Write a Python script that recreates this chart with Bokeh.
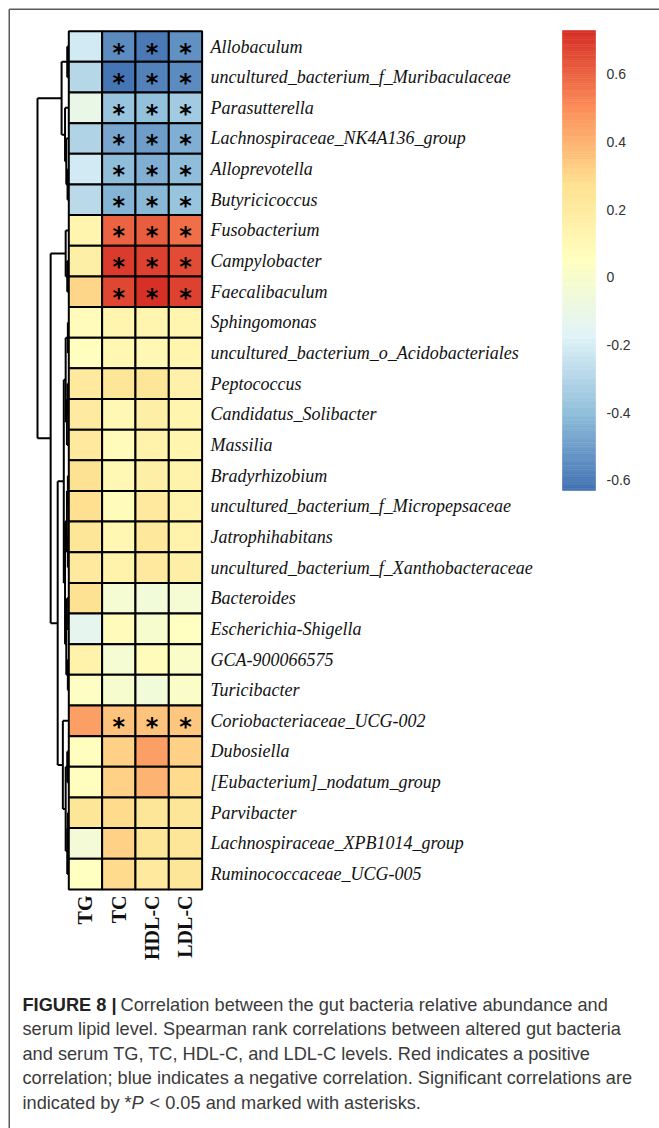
import numpy as np
from bokeh.plotting import figure
from bokeh.models import Range1d, LinearColorMapper, ColumnDataSource
from bokeh.core.properties import value
from bokeh.transform import transform
from bokeh.embed import file_html
from bokeh.resources import INLINE

# ---------------- data ----------------
genera = [
    "Allobaculum", "uncultured_bacterium_f_Muribaculaceae", "Parasutterella",
    "Lachnospiraceae_NK4A136_group", "Alloprevotella", "Butyricicoccus",
    "Fusobacterium", "Campylobacter", "Faecalibaculum", "Sphingomonas",
    "uncultured_bacterium_o_Acidobacteriales", "Peptococcus", "Candidatus_Solibacter",
    "Massilia", "Bradyrhizobium", "uncultured_bacterium_f_Micropepsaceae",
    "Jatrophihabitans", "uncultured_bacterium_f_Xanthobacteraceae", "Bacteroides",
    "Escherichia-Shigella", "GCA-900066575", "Turicibacter", "Coriobacteriaceae_UCG-002",
    "Dubosiella", "[Eubacterium]_nodatum_group", "Parvibacter",
    "Lachnospiraceae_XPB1014_group", "Ruminococcaceae_UCG-005",
]
measures = ["TG", "TC", "HDL-C", "LDL-C"]

tg  = [-0.22, -0.30, -0.10, -0.31, -0.21, -0.28, 0.12, 0.16, 0.30, 0.07, 0.05, 0.20, 0.19, 0.21,
       0.26, 0.28, 0.24, 0.20, 0.26, -0.13, 0.14, 0.03, 0.45, 0.06, 0.06, 0.24, -0.04, 0.04]
tc  = [-0.55, -0.63, -0.38, -0.47, -0.41, -0.43, 0.60, 0.69, 0.67, 0.13, 0.11, 0.23, 0.10, 0.07,
       0.10, 0.07, 0.11, 0.14, -0.03, 0.07, -0.02, -0.01, 0.35, 0.32, 0.31, 0.29, 0.31, 0.29]
hdl = [-0.61, -0.58, -0.39, -0.50, -0.44, -0.42, 0.62, 0.68, 0.73, 0.13, 0.10, 0.23, 0.16, 0.14,
       0.16, 0.20, 0.22, 0.20, -0.05, -0.01, 0.07, -0.05, 0.36, 0.45, 0.40, 0.24, 0.24, 0.20]
ldl = [-0.54, -0.55, -0.35, -0.45, -0.40, -0.38, 0.58, 0.66, 0.68, 0.12, 0.12, 0.15, 0.13, 0.13,
       0.14, 0.14, 0.14, 0.16, -0.03, 0.04, 0.02, 0.02, 0.34, 0.32, 0.29, 0.24, 0.24, 0.24]

# significance (1 = P < 0.05)
sig_tg  = [0] * 28
sig_tc  = [1, 1, 1, 1, 1, 1, 1, 1, 1, 0, 0, 0, 0, 0, 0, 0, 0, 0, 0, 0, 0, 0, 1, 0, 0, 0, 0, 0]
sig_hdl = [1, 1, 1, 1, 1, 1, 1, 1, 1, 0, 0, 0, 0, 0, 0, 0, 0, 0, 0, 0, 0, 0, 1, 0, 0, 0, 0, 0]
sig_ldl = [1, 1, 1, 1, 1, 1, 1, 1, 1, 0, 0, 0, 0, 0, 0, 0, 0, 0, 0, 0, 0, 0, 1, 0, 0, 0, 0, 0]

# row dendrogram merges (child a, child b, height); leaves 0..27, merge k -> id 28+k
merges = [
    (0, 1, 0.05), (4, 5, 0.04), (3, 29, 0.08), (2, 30, 0.12), (28, 31, 0.23),
    (7, 8, 0.05), (6, 33, 0.10),
    (9, 10, 0.03), (11, 12, 0.04), (36, 13, 0.06), (35, 37, 0.10),
    (14, 15, 0.03), (16, 17, 0.03), (39, 40, 0.06), (18, 19, 0.06), (20, 21, 0.03),
    (42, 43, 0.08), (41, 44, 0.12), (38, 45, 0.16),
    (23, 24, 0.05), (25, 26, 0.03), (48, 27, 0.05), (47, 49, 0.10), (22, 50, 0.19),
    (46, 51, 0.355), (34, 52, 0.58), (32, 53, 1.0),
]

legend_ticks = [0.6, 0.4, 0.2, 0.0, -0.2, -0.4, -0.6]
legend_labels = ["0.6", "0.4", "0.2", "0", "-0.2", "-0.4", "-0.6"]

caption_lines = [
    "Correlation between the gut bacteria relative abundance and",
    "serum lipid level. Spearman rank correlations between altered gut bacteria",
    "and serum TG, TC, HDL-C, and LDL-C levels. Red indicates a positive",
    "correlation; blue indicates a negative correlation. Significant correlations are",
    "indicated by *",
]

# ---------------- layout ----------------
W, H = 659, 1128
OX, OY = 0, 0            # page offset of the canvas
X0, CW = 68.3, 33.33     # page px of heatmap left edge, cell width
Y0, RH = 30.7, 30.65     # page px of heatmap top edge, row height

def ux(px):
    return (px - X0) / CW

def uy(py):
    return (py - Y0) / RH

p = figure(width=W, height=H, toolbar_location=None, output_backend="svg",
           x_range=Range1d(ux(OX), ux(OX + W)), y_range=Range1d(uy(OY + H), uy(OY)),
           x_axis_type=None, y_axis_type=None, min_border=0,
           outline_line_color=None, background_fill_color="white",
           border_fill_color="white")
p.grid.visible = False

# palette: pheatmap default rev(RdYlBu 7) ramp, 100 colours
stops = ["#4575B4", "#91BFDB", "#E0F3F8", "#FFFFBF", "#FEE090", "#FC8D59", "#D73027"]
def hex2rgb(h):
    return np.array([int(h[i:i + 2], 16) for i in (1, 3, 5)], float)
srgb = np.array([hex2rgb(s) for s in stops])
pal = []
for t in np.linspace(0, 1, 100):
    f = t * (len(stops) - 1)
    i = min(int(f), len(stops) - 2)
    c = srgb[i] + (srgb[i + 1] - srgb[i]) * (f - i)
    pal.append("#%02x%02x%02x" % tuple(int(round(v)) for v in c))

cols = [tg, tc, hdl, ldl]
sigs = [sig_tg, sig_tc, sig_hdl, sig_ldl]
allv = np.array(cols)
vmin, vmax = float(allv.min()), float(allv.max())
mapper = LinearColorMapper(palette=pal, low=vmin, high=vmax)

# heatmap cells
cx, cy, cv, sx, sy = [], [], [], [], []
for i, col in enumerate(cols):
    for j, v in enumerate(col):
        cx.append(i + 0.5); cy.append(j + 0.5); cv.append(v)
        if sigs[i][j]:
            sx.append(i + 0.5); sy.append(j + 0.5)
src = ColumnDataSource(dict(x=cx, y=cy, v=cv))
p.rect(x="x", y="y", width=1, height=1, source=src,
       fill_color=transform("v", mapper), line_color="black", line_width=2)

p.text(x=sx, y=sy, text=["*"] * len(sx), text_align="center", text_baseline="middle",
       text_font=value("DejaVu Sans"), text_font_style="bold", text_font_size="24px",
       text_color="black", y_offset=6)

# row labels
p.text(x=[ux(210)] * len(genera), y=[j + 0.5 for j in range(len(genera))], text=genera,
       text_font=value("Liberation Serif"), text_font_style="italic",
       text_font_size="18px", text_baseline="middle", text_align="left",
       text_color="#111111")

# column labels
p.text(x=[i + 0.5 for i in range(len(measures))], y=[uy(895)] * len(measures),
       text=measures, angle=np.pi / 2, text_align="right", text_baseline="middle",
       text_font=value("Liberation Serif"), text_font_style="bold",
       text_font_size="20px", text_color="#111111")

# dendrogram
n = len(genera)
DW = ux(68.3) - ux(37)
pos = {k: k + 0.5 for k in range(n)}
hgt = {k: 0.0 for k in range(n)}
x0s, y0s, x1s, y1s = [], [], [], []
for k, (a, b, h) in enumerate(merges):
    xh = -h * DW
    for c in (a, b):
        x0s.append(-hgt[c] * DW); y0s.append(pos[c]); x1s.append(xh); y1s.append(pos[c])
    x0s.append(xh); y0s.append(pos[a]); x1s.append(xh); y1s.append(pos[b])
    pos[n + k] = (pos[a] + pos[b]) / 2
    hgt[n + k] = h
p.segment(x0=x0s, y0=y0s, x1=x1s, y1=y1s, line_color="black", line_width=2)

# colour legend
NB = 200
cb_top, cb_bot = uy(30), uy(490)
cb_l, cb_r = ux(562), ux(595)
edges = np.linspace(cb_top, cb_bot, NB + 1)
vals = vmax - (np.arange(NB) + 0.5) / NB * (vmax - vmin)
cbs = ColumnDataSource(dict(top=edges[:-1], bottom=edges[1:], v=vals))
p.quad(left=cb_l, right=cb_r, top="top", bottom="bottom", source=cbs,
       fill_color=transform("v", mapper), line_color=transform("v", mapper),
       line_width=0.6)
ty = [cb_top + (vmax - t) / (vmax - vmin) * (cb_bot - cb_top) for t in legend_ticks]
p.text(x=[ux(606)] * len(ty), y=ty, text=legend_labels, text_align="left",
       text_baseline="middle", text_font=value("Liberation Sans"),
       text_font_size="14px", text_color="#333333")

# frame
p.segment(x0=[ux(8.75), ux(8.75)], y0=[uy(8.75), uy(8.75)],
          x1=[ux(8.75), ux(700)], y1=[uy(1200), uy(8.75)],
          line_color="#5a5a5a", line_width=1.5)

# caption
FS = "18.2px"
cap_y = [uy(v) for v in (1004, 1028.5, 1053, 1077.5, 1102)]
p.text(x=[ux(22)], y=[cap_y[0]], text=["FIGURE 8 |"], text_baseline="middle",
       text_font=value("Liberation Sans"), text_font_style="bold",
       text_font_size=FS, text_color="#222222")
p.text(x=[ux(120)] + [ux(22)] * 4, y=cap_y, text=caption_lines, text_baseline="middle",
       text_font=value("Liberation Sans"), text_font_size=FS, text_color="#3a3a3a")
p.text(x=[ux(131)], y=[cap_y[4]], text=["P"], text_baseline="middle",
       text_font=value("Liberation Sans"), text_font_style="italic",
       text_font_size=FS, text_color="#3a3a3a")
p.text(x=[ux(149)], y=[cap_y[4]], text=["< 0.05 and marked with asterisks."],
       text_baseline="middle", text_font=value("Liberation Sans"),
       text_font_size=FS, text_color="#3a3a3a")

open("out.html", "w").write(file_html(p, INLINE))
